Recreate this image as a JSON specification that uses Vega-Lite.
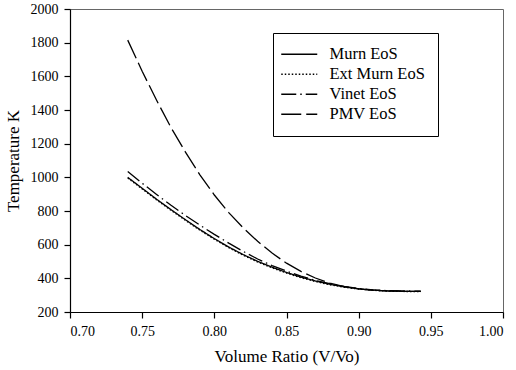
{
  "$schema": "https://vega.github.io/schema/vega-lite/v6.json",
  "width": 433,
  "height": 303,
  "autosize": {"type": "none"},
  "padding": {"left": 70, "top": 9, "right": 13, "bottom": 58},
  "background": "white",
  "config": {
    "font": "Liberation Serif",
    "view": {"stroke": "#666666", "strokeWidth": 1},
    "axis": {"grid": false, "domainColor": "black", "tickColor": "black", "labelColor": "black", "titleColor": "black", "labelFont": "Liberation Serif", "titleFont": "Liberation Serif", "labelFontSize": 14, "titleFontSize": 17, "titleFontWeight": "normal", "tickSize": 6, "domainWidth": 1.2, "tickWidth": 1.2}
  },
  "data": {
    "values": [
      {"v": 0.74, "T": 1000, "s": "Murn EoS"}, {"v": 0.75, "T": 935, "s": "Murn EoS"}, {"v": 0.76, "T": 870, "s": "Murn EoS"}, {"v": 0.77, "T": 808, "s": "Murn EoS"}, {"v": 0.78, "T": 748, "s": "Murn EoS"}, {"v": 0.79, "T": 690, "s": "Murn EoS"}, {"v": 0.80, "T": 636, "s": "Murn EoS"}, {"v": 0.81, "T": 586, "s": "Murn EoS"}, {"v": 0.82, "T": 541, "s": "Murn EoS"}, {"v": 0.83, "T": 501, "s": "Murn EoS"}, {"v": 0.84, "T": 466, "s": "Murn EoS"}, {"v": 0.85, "T": 435, "s": "Murn EoS"}, {"v": 0.86, "T": 407, "s": "Murn EoS"}, {"v": 0.87, "T": 384, "s": "Murn EoS"}, {"v": 0.88, "T": 365, "s": "Murn EoS"}, {"v": 0.89, "T": 349, "s": "Murn EoS"}, {"v": 0.90, "T": 338, "s": "Murn EoS"}, {"v": 0.91, "T": 330, "s": "Murn EoS"}, {"v": 0.92, "T": 325, "s": "Murn EoS"}, {"v": 0.93, "T": 323, "s": "Murn EoS"}, {"v": 0.943, "T": 322, "s": "Murn EoS"},
      {"v": 0.74, "T": 996, "s": "Ext Murn EoS"}, {"v": 0.75, "T": 931, "s": "Ext Murn EoS"}, {"v": 0.76, "T": 866, "s": "Ext Murn EoS"}, {"v": 0.77, "T": 804, "s": "Ext Murn EoS"}, {"v": 0.78, "T": 744, "s": "Ext Murn EoS"}, {"v": 0.79, "T": 686, "s": "Ext Murn EoS"}, {"v": 0.80, "T": 632, "s": "Ext Murn EoS"}, {"v": 0.81, "T": 582, "s": "Ext Murn EoS"}, {"v": 0.82, "T": 537, "s": "Ext Murn EoS"}, {"v": 0.83, "T": 497, "s": "Ext Murn EoS"}, {"v": 0.84, "T": 462, "s": "Ext Murn EoS"}, {"v": 0.85, "T": 431, "s": "Ext Murn EoS"}, {"v": 0.86, "T": 404, "s": "Ext Murn EoS"}, {"v": 0.87, "T": 381, "s": "Ext Murn EoS"}, {"v": 0.88, "T": 362, "s": "Ext Murn EoS"}, {"v": 0.89, "T": 347, "s": "Ext Murn EoS"}, {"v": 0.90, "T": 336, "s": "Ext Murn EoS"}, {"v": 0.91, "T": 329, "s": "Ext Murn EoS"}, {"v": 0.92, "T": 324, "s": "Ext Murn EoS"}, {"v": 0.93, "T": 322, "s": "Ext Murn EoS"}, {"v": 0.943, "T": 321, "s": "Ext Murn EoS"},
      {"v": 0.74, "T": 1035, "s": "Vinet EoS"}, {"v": 0.75, "T": 965, "s": "Vinet EoS"}, {"v": 0.76, "T": 898, "s": "Vinet EoS"}, {"v": 0.77, "T": 834, "s": "Vinet EoS"}, {"v": 0.78, "T": 773, "s": "Vinet EoS"}, {"v": 0.79, "T": 716, "s": "Vinet EoS"}, {"v": 0.80, "T": 661, "s": "Vinet EoS"}, {"v": 0.81, "T": 609, "s": "Vinet EoS"}, {"v": 0.82, "T": 560, "s": "Vinet EoS"}, {"v": 0.83, "T": 515, "s": "Vinet EoS"}, {"v": 0.84, "T": 476, "s": "Vinet EoS"}, {"v": 0.85, "T": 443, "s": "Vinet EoS"}, {"v": 0.86, "T": 413, "s": "Vinet EoS"}, {"v": 0.87, "T": 388, "s": "Vinet EoS"}, {"v": 0.88, "T": 368, "s": "Vinet EoS"}, {"v": 0.89, "T": 352, "s": "Vinet EoS"}, {"v": 0.90, "T": 340, "s": "Vinet EoS"}, {"v": 0.91, "T": 332, "s": "Vinet EoS"}, {"v": 0.92, "T": 327, "s": "Vinet EoS"}, {"v": 0.93, "T": 325, "s": "Vinet EoS"}, {"v": 0.943, "T": 324, "s": "Vinet EoS"},
      {"v": 0.74, "T": 1815, "s": "PMV EoS"}, {"v": 0.75, "T": 1630, "s": "PMV EoS"}, {"v": 0.76, "T": 1458, "s": "PMV EoS"}, {"v": 0.77, "T": 1295, "s": "PMV EoS"}, {"v": 0.78, "T": 1150, "s": "PMV EoS"}, {"v": 0.79, "T": 1015, "s": "PMV EoS"}, {"v": 0.80, "T": 895, "s": "PMV EoS"}, {"v": 0.81, "T": 790, "s": "PMV EoS"}, {"v": 0.82, "T": 700, "s": "PMV EoS"}, {"v": 0.83, "T": 620, "s": "PMV EoS"}, {"v": 0.84, "T": 550, "s": "PMV EoS"}, {"v": 0.85, "T": 490, "s": "PMV EoS"}, {"v": 0.86, "T": 441, "s": "PMV EoS"}, {"v": 0.87, "T": 402, "s": "PMV EoS"}, {"v": 0.88, "T": 372, "s": "PMV EoS"}, {"v": 0.89, "T": 351, "s": "PMV EoS"}, {"v": 0.90, "T": 337, "s": "PMV EoS"}, {"v": 0.91, "T": 329, "s": "PMV EoS"}, {"v": 0.92, "T": 325, "s": "PMV EoS"}, {"v": 0.93, "T": 323, "s": "PMV EoS"}, {"v": 0.943, "T": 322, "s": "PMV EoS"}
    ]
  },
  "mark": {"type": "line", "color": "black", "strokeWidth": 1.3},
  "encoding": {
    "x": {"field": "v", "type": "quantitative", "scale": {"domain": [0.7, 1.0], "nice": false, "zero": false}, "axis": {"values": [0.7, 0.75, 0.8, 0.85, 0.9, 0.95, 1.0], "format": ".2f", "title": "Volume Ratio (V/Vo)", "labelPadding": 6, "titlePadding": 10}},
    "y": {"field": "T", "type": "quantitative", "scale": {"domain": [200, 2000], "nice": false, "zero": false}, "axis": {"values": [200, 400, 600, 800, 1000, 1200, 1400, 1600, 1800, 2000], "format": "d", "title": "Temperature K", "labelPadding": 6, "titlePadding": 8}},
    "strokeDash": {
      "field": "s", "type": "nominal",
      "scale": {"domain": ["Murn EoS", "Ext Murn EoS", "Vinet EoS", "PMV EoS"], "range": [[1, 0], [1.5, 2], [15, 4, 1.5, 4], [20, 5]]},
      "legend": {"title": null, "orient": "none", "legendX": 203, "legendY": 24, "symbolType": "M-3,0H3", "symbolSize": 144, "symbolOffset": 5, "symbolStrokeColor": "black", "symbolFillColor": "transparent", "symbolStrokeWidth": 1.3, "labelFont": "Liberation Serif", "labelFontSize": 16.5, "labelColor": "black", "labelOffset": 22, "rowPadding": 3, "padding": 13, "strokeColor": "black", "fillColor": "white", "labelLimit": 250}
    }
  }
}
